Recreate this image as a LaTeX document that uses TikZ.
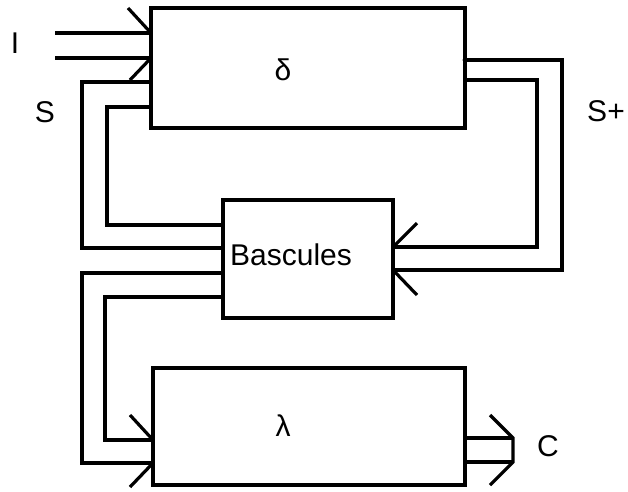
\documentclass[tikz,border=0pt]{standalone}
\usepackage{fontspec}
\setmainfont{Liberation Sans}
\usepackage{tikz}

\tikzset{
    bus/.style={line width=3.2pt, line join=miter},
    box/.style={draw, line width=3.2pt, rectangle, inner sep=0pt, outer sep=0pt}
}

\begin{document}
\begin{tikzpicture}[x=1pt, y=-1pt]

    \useasboundingbox (0,0) rectangle (628,491);

    \begin{scope}[every node/.style={box}]
        \node (delta)  at (308,68)    [minimum width=314pt, minimum height=120pt] {};
        \node (basc)   at (308,259)   [minimum width=170pt, minimum height=118pt] {};
        \node (lambda) at (309,426.5) [minimum width=312pt, minimum height=117pt] {};
    \end{scope}

    \begin{scope}[every node/.style={inner sep=0pt, font=\fontsize{30}{36}\selectfont}]
        \node (tdelta)  at (283,70)  {δ};
        \node (tbasc)   at (291,255) {Bascules};
        \node (tlambda) at (283,426) {λ};
        \node (tI)      at (15,43)   {I};
        \node (tS)      at (45,112)  {S};
        \node (tSp)     at (606,111) {S+};
        \node (tC)      at (548,446) {C};
    \end{scope}

    \coordinate (in1) at (55,33);
    \coordinate (in2) at (55,58);

    % entrees I
    \draw [bus] (in1) -- (delta.west |- 0,33);
    \draw [bus] (in2) -- (delta.west |- 0,58);
    \draw [bus] (128,8) -- (delta.west |- 0,33) -- (delta.west |- 0,58) -- (130,80);

    % etat S
    \draw [bus] (delta.west |- 0,82)  -| (82,248)  -- (basc.west |- 0,248);
    \draw [bus] (delta.west |- 0,107) -| (107,225) -- (basc.west |- 0,225);

    % etat suivant S+
    \draw [bus] (delta.east |- 0,60) -| (562,270) -- (basc.east |- 0,270);
    \draw [bus] (delta.east |- 0,80) -| (537,247) -- (basc.east |- 0,247);
    \draw [bus] (417,223) -- (basc.east |- 0,247) -- (basc.east |- 0,270) -- (417,295);
    \fill (delta.east |- 0,60) circle (2.4pt);

    % vers lambda
    \draw [bus] (basc.west |- 0,273) -| (82,463)  -- (lambda.west |- 0,463);
    \draw [bus] (basc.west |- 0,297) -| (105,440) -- (lambda.west |- 0,440);
    \draw [bus] (130,415) -- (lambda.west |- 0,440) -- (lambda.west |- 0,463) -- (130,487);

    % sorties C
    \draw [bus] (lambda.east |- 0,438) -- (513,438);
    \draw [bus] (lambda.east |- 0,462) -- (513,462);
    \draw [bus] (490,415) -- (513,438) -- (513,462) -- (490,485);

\end{tikzpicture}
\end{document}
